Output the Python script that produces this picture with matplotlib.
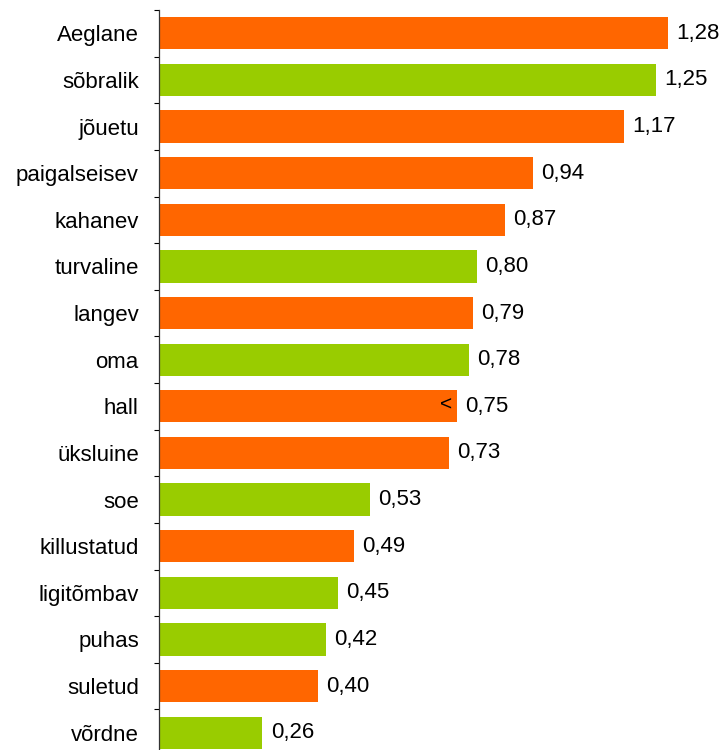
import matplotlib.pyplot as plt
import numpy as np

categories = ["Aeglane", "sõbralik", "jõuetu", "paigalseisev", "kahanev",
              "turvaline", "langev", "oma", "hall", "üksluine", "soe",
              "killustatud", "ligitõmbav", "puhas", "suletud", "võrdne"]
values = [1.28, 1.25, 1.17, 0.94, 0.87, 0.80, 0.79, 0.78, 0.75, 0.73,
          0.53, 0.49, 0.45, 0.42, 0.40, 0.26]
groups = ["neg", "pos", "neg", "neg", "neg", "pos", "neg", "pos", "neg",
          "neg", "pos", "neg", "pos", "pos", "neg", "pos"]

colors = {"neg": "#FF6600", "pos": "#99CC00"}

plt.rcParams['font.family'] = ['Liberation Sans', 'DejaVu Sans']

fig = plt.figure(figsize=(7.22, 7.5), dpi=100)
ax = fig.add_axes([159 / 722, -6 / 750, 1 - 159 / 722, 746 / 750])

y = np.arange(len(categories))
bars = ax.barh(y, values, height=0.69,
               color=[colors[g] for g in groups])

labels = [f"{v:.2f}".replace(".", ",") for v in values]
ax.bar_label(bars, labels=labels, padding=6, fontsize=16)

# stray "<" mark inside the "hall" bar
i = categories.index("hall")
ax.annotate("<", xy=(values[i], y[i]), xytext=(-4, 1),
            textcoords="offset points", ha="right", va="center", fontsize=15)

ax.set_ylim(len(categories) - 0.5, -0.5)
ax.set_xlim(0, 1.416)

ax.set_yticks(y)
ax.set_yticklabels(categories, fontsize=16)
ax.set_yticks(np.arange(-0.5, len(categories), 1), minor=True)
ax.tick_params(axis="y", which="major", length=0, pad=14.5)
ax.tick_params(axis="y", which="minor", length=3.6, width=0.8, direction="out")
ax.set_xticks([])

for s in ["top", "right", "bottom"]:
    ax.spines[s].set_visible(False)
ax.spines["left"].set_linewidth(0.9)
ax.spines["left"].set_color("#333333")

fig.savefig("out.png", dpi=100)
